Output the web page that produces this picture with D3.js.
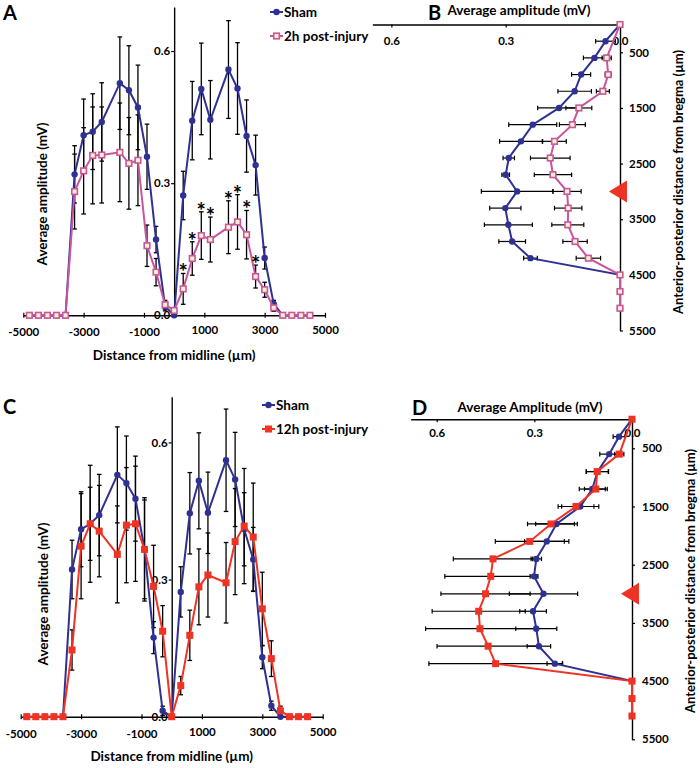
<!DOCTYPE html>
<html><head><meta charset="utf-8">
<script src="https://cdn.jsdelivr.net/npm/d3@7"></script>
<style>
body{margin:0;background:#fff}
svg text{font-family:Lato,'Open Sans',sans-serif;font-weight:bold;fill:#000}
</style>
</head><body>
<svg id="chart" width="700" height="768"></svg>
<script>
// ---------- data ----------
const distML = [-4800,-4500,-4200,-3900,-3600,-3300,-3000,-2700,-2400,-1800,-1500,-1200,-900,-600,-300,0,300,600,900,1200,1800,2100,2400,2700,3000,3300,3600,3900,4200,4500];
// Panel A
const shamA    = [0,0,0,0,0, 0.320,0.409,0.417,0.439,0.527,0.511,0.472,0.360,0.172,0.020, 0, 0.272,0.442,0.514,0.444,0.558,0.515,0.407,0.341,0.130,0.026, 0,0,0,0];
const shamAErr = [0,0,0,0,0, 0.065,0.082,0.086,0.089,0.105,0.101,0.096,0.074,0.030,0.010, 0, 0.055,0.089,0.104,0.089,0.111,0.104,0.082,0.068,0.025,0.008, 0,0,0,0];
const inj2h    = [0,0,0,0,0, 0.281,0.328,0.363,0.364,0.370,0.345,0.352,0.158,0.098,0.024, 0.011, 0.060,0.129,0.181,0.172,0.200,0.212,0.183,0.088,0.058,0.017, 0,0,0,0];
const inj2hErr = [0,0,0,0,0, 0.085,0.098,0.110,0.109,0.112,0.104,0.103,0.047,0.031,0.010, 0.005, 0.035,0.038,0.054,0.051,0.060,0.062,0.055,0.026,0.017,0.008, 0,0,0,0];
const sigA = [300,600,900,1200,1800,2100,2400,2700];
// Panel C
const shamC     = [0,0,0,0,0, 0.322,0.410,0.422,0.441,0.529,0.511,0.477,0.366,0.173,0.013, 0, 0.273,0.445,0.516,0.446,0.561,0.519,0.410,0.344,0.130,0.024, 0,0,0,0];
const shamCErr  = [0,0,0,0,0, 0.064,0.082,0.128,0.089,0.105,0.103,0.093,0.113,0.035,0.010, 0, 0.055,0.089,0.105,0.089,0.112,0.103,0.080,0.070,0.025,0.010, 0,0,0,0];
const inj12h    = [0,0,0,0,0, 0.146,0.373,0.422,0.406,0.355,0.419,0.422,0.366,0.285,0.187, 0, 0.068,0.178,0.284,0.310,0.293,0.383,0.417,0.393,0.236,0.127,0.013, 0,0,0];
const inj12hErr = [0,0,0,0,0, 0.044,0.115,0.080,0.100,0.106,0.126,0.126,0.108,0.090,0.056, 0, 0.020,0.055,0.083,0.092,0.088,0.116,0.126,0.118,0.080,0.039,0.010, 0,0,0];
// Panels B and D (anterior-posterior distance)
const distAP = [0,300,600,900,1200,1500,1800,2100,2400,2700,3000,3300,3600,3900,4200,4500,4800,5100];
const shamB     = [0,0.038,0.067,0.102,0.119,0.160,0.229,0.260,0.292,0.300,0.270,0.301,0.293,0.283,0.235,0,0,0];
const shamBErr  = [0,0.026,0.029,0.025,0.044,0.056,0.063,0.056,0.015,0.010,0.094,0.041,0.063,0.035,0.018,0,0,0];
const inj2hB    = [0,null,0.035,0.031,0.045,0.108,0.125,0.172,0.183,0.176,0.139,0.136,0.137,0.118,0.083,0,0,0];
const inj2hBErr = [0,0,0.012,0.008,0.017,0.034,0.034,0.031,0.052,0.049,0.037,0.036,0.042,0.032,0.032,0,0,0];
const shamD      = [0,0.040,0.070,0.106,0.122,0.159,0.232,0.262,0.294,0.301,0.272,0.304,0.294,0.286,0.237,0,0,0];
const shamDErr   = [0,0.018,0.029,0.034,0.040,0.057,0.064,0.068,0.016,0.012,0.105,0.041,0.063,0.036,0.024,0,0,0];
const inj12hD    = [0,null,0.039,0.107,0.111,0.172,0.249,0.314,0.427,0.434,0.450,0.471,0.467,0.442,0.419,0,0,0];
const inj12hDErr = [0,0,0.014,0.034,0.035,0.055,0.072,0.106,0.122,0.141,0.137,0.143,0.167,0.157,0.205,0,0,0];
const lesionAP = 3000;
// ticks & labels
const mlTicks = [-5000,-3000,-1000,1000,3000,5000];
const ampTicks = [0,0.3,0.6];
const apTicks = [500,1500,2500,3500,4500,5500];
const seriesNames = {sham:'Sham', h2:'2h post-injury', h12:'12h post-injury'};

// ---------- drawing ----------
const svg = d3.select('#chart');
const C_SHAM = '#2e3192', C_PINK = '#c8559f', C_RED = '#ee3224', C_PINKFILL = '#fbf3c8';

function rows(xs, vs, es){ return xs.map((d,i)=>({d, v:vs[i], e:es[i]})).filter(r=>r.v!=null); }

function styleAxis(g){
  g.attr('font-family',null).attr('font-size',null);
  g.select('.domain').attr('stroke','#000').attr('stroke-width',1.4);
  g.selectAll('.tick line').attr('stroke','#000').attr('stroke-width',1.2);
  g.selectAll('.tick text').attr('font-size',11.5);
}

function marker(g, data, type, px, py){
  if(type==='circle'){
    g.selectAll(null).data(data).join('circle').attr('cx',px).attr('cy',py).attr('r',3.2).attr('fill',C_SHAM);
  } else if(type==='open'){
    g.selectAll(null).data(data).join('rect').attr('x',d=>px(d)-2.8).attr('y',d=>py(d)-2.8).attr('width',5.6).attr('height',5.6)
      .attr('fill',C_PINKFILL).attr('stroke',C_PINK).attr('stroke-width',1.6);
  } else {
    g.selectAll(null).data(data).join('rect').attr('x',d=>px(d)-3.5).attr('y',d=>py(d)-3.5).attr('width',7).attr('height',7).attr('fill',C_RED);
  }
}

function horizPanel(o){
  const x = d3.scaleLinear().domain([-5000,5000]).range([o.xl,o.xr]);
  const y = d3.scaleLinear().domain([0,0.7]).range([o.yb,o.yt]);
  const g = svg.append('g');
  const gx = g.append('g').attr('transform',`translate(0,${o.yb})`)
    .call(d3.axisBottom(x).tickValues(mlTicks).tickSizeOuter(0).tickSizeInner(3).tickFormat(d=>String(d)));
  styleAxis(gx);
  gx.selectAll('.tick line').attr('y1',-2.5).attr('y2',2.5);
  gx.selectAll('.tick text').attr('y',d=>d<0?13:11).attr('dy','0.71em');
  const gy = g.append('g').attr('transform',`translate(${x(0)},0)`)
    .call(d3.axisLeft(y).tickValues(ampTicks).tickSizeOuter(0).tickSizeInner(3).tickFormat(d=>d.toFixed(1)));
  styleAxis(gy);
  gy.selectAll('.tick text').attr('x',-4);
  // titles
  g.append('text').attr('x',x(0)).attr('y',o.yb+40).attr('dy','0.35em').attr('text-anchor','middle').attr('font-size',13.5).text('Distance from midline (µm)');
  g.append('text').attr('transform',`translate(${o.ytx},${o.yty}) rotate(-90)`).attr('dy','0.35em').attr('text-anchor','middle').attr('font-size',13.5).text('Average amplitude (mV)');
  g.append('text').attr('x',3).attr('y',o.yt+o.letterDy).attr('font-size',20).attr('font-family','Liberation Sans, Arial, sans-serif').text(o.letter);
  // error bars
  const eb = g.append('g').attr('stroke','#000').attr('stroke-width',1.3);
  o.series.forEach(s=>{
    rows(distML,s.v,s.e).filter(r=>r.e>0).forEach(r=>{
      const cx=x(r.d), y1=y(r.v-r.e), y2=y(r.v+r.e);
      eb.append('line').attr('x1',cx).attr('x2',cx).attr('y1',y1).attr('y2',y2);
      eb.append('line').attr('x1',cx-2.3).attr('x2',cx+2.3).attr('y1',y1).attr('y2',y1);
      eb.append('line').attr('x1',cx-2.3).attr('x2',cx+2.3).attr('y1',y2).attr('y2',y2);
    });
  });
  o.series.forEach(s=>{
    const data = rows(distML,s.v,s.e);
    g.append('path').datum(data).attr('fill','none').attr('stroke',s.color).attr('stroke-width',2)
      .attr('d',d3.line().x(d=>x(d.d)).y(d=>y(d.v)));
    marker(g.append('g'), data, s.marker, d=>x(d.d), d=>y(d.v));
  });
  // asterisks
  if(o.sig){
    const s = o.series[1];
    const data = rows(distML,s.v,s.e).filter(r=>o.sig.includes(r.d));
    g.selectAll(null).data(data).join('text').attr('x',d=>x(d.d)).attr('y',d=>y(d.v+d.e)+7)
      .attr('text-anchor','middle').attr('font-size',22).text('*');
  }
  // legend
  o.series.forEach((s,i)=>{
    const ly = o.legY + i*24;
    g.append('line').attr('x1',o.legX).attr('x2',o.legX+13).attr('y1',ly).attr('y2',ly).attr('stroke',s.color).attr('stroke-width',2);
    marker(g.append('g'), [0], s.marker, ()=>o.legX+6.5, ()=>ly);
    g.append('text').attr('x',o.legX+14).attr('y',ly).attr('dy','0.35em').attr('font-size',13.5).text(s.name);
  });
}

function vertPanel(o){
  const x = d3.scaleLinear().domain([0,o.maxAmp]).range([o.ax, o.ax-o.maxAmp*o.pxmv]);
  const y = d3.scaleLinear().domain([0,5500]).range([o.yt,o.yb]);
  const g = svg.append('g');
  const gx = g.append('g').attr('transform',`translate(0,${o.yt})`)
    .call(d3.axisBottom(x).tickValues(ampTicks).tickSizeOuter(0).tickSizeInner(3).tickFormat(d=>d.toFixed(1)));
  styleAxis(gx);
  gx.selectAll('.tick text').attr('y',o.labDy).attr('dy','0.35em');
  const gy = g.append('g').attr('transform',`translate(${o.ax},0)`)
    .call(d3.axisRight(y).tickValues(apTicks).tickSizeOuter(0).tickSizeInner(3).tickFormat(d=>String(d)));
  styleAxis(gy);
  gy.selectAll('.tick text').attr('x',o.labDx);
  g.append('text').attr('x',o.tx).attr('y',o.ty).attr('dy','0.35em').attr('text-anchor','middle').attr('font-size',13.5).text(o.title);
  g.append('text').attr('transform',`translate(${o.rtx},${o.rty}) rotate(-90)`).attr('dy','0.35em').attr('text-anchor','middle').attr('font-size',13).text('Anterior-posterior distance from bregma (µm)');
  g.append('text').attr('x',o.lx).attr('y',o.ly).attr('font-size',20).attr('font-family','Liberation Sans, Arial, sans-serif').text(o.letter);
  // lesion marker
  const ty = y(lesionAP);
  g.append('path').attr('d',`M${o.ax-11},${ty} L${o.ax+7},${ty-11} L${o.ax+7},${ty+11} Z`).attr('fill',C_RED);
  const eb = g.append('g').attr('stroke','#000').attr('stroke-width',1.2);
  o.series.forEach(s=>{
    rows(distAP,s.v,s.e).filter(r=>r.e>0).forEach(r=>{
      const cy=y(r.d), x1=x(r.v-r.e), x2=x(r.v+r.e);
      eb.append('line').attr('x1',x1).attr('x2',x2).attr('y1',cy).attr('y2',cy);
      eb.append('line').attr('x1',x1).attr('x2',x1).attr('y1',cy-2.3).attr('y2',cy+2.3);
      eb.append('line').attr('x1',x2).attr('x2',x2).attr('y1',cy-2.3).attr('y2',cy+2.3);
    });
  });
  o.series.forEach(s=>{
    const data = rows(distAP,s.v,s.e);
    g.append('path').datum(data).attr('fill','none').attr('stroke',s.color).attr('stroke-width',2)
      .attr('d',d3.line().x(d=>x(d.v)).y(d=>y(d.d)));
    marker(g.append('g'), data, s.marker, d=>x(d.v), d=>y(d.d));
  });
}

horizPanel({xl:23.3,xr:325,yb:315.3,yt:7,ytx:42,yty:194,letter:'A',letterDy:13,legX:270,legY:12,sig:sigA,
  series:[{name:seriesNames.sham,v:shamA,e:shamAErr,color:C_SHAM,marker:'circle'},
          {name:seriesNames.h2,v:inj2h,e:inj2hErr,color:C_PINK,marker:'open'}]});
horizPanel({xl:20.7,xr:322.7,yb:716.7,yt:396.7,ytx:43,yty:594,letter:'C',letterDy:17,legX:262,legY:405,
  series:[{name:seriesNames.sham,v:shamC,e:shamCErr,color:C_SHAM,marker:'circle'},
          {name:seriesNames.h12,v:inj12h,e:inj12hErr,color:C_RED,marker:'filled'}]});
vertPanel({ax:620,pxmv:381,maxAmp:0.65,yt:24.5,yb:330.5,labDy:16,labDx:9,tx:519,ty:10,rtx:678,rty:182,title:'Average amplitude (mV)',letter:'B',lx:428,ly:20,
  series:[{v:shamB,e:shamBErr,color:C_SHAM,marker:'circle'},{v:inj2hB,e:inj2hBErr,color:C_PINK,marker:'open'}]});
vertPanel({ax:632,pxmv:325.5,maxAmp:0.68,yt:419.2,yb:739.3,labDy:14,labDx:10,tx:530,ty:407,rtx:690,rty:581,title:'Average Amplitude (mV)',letter:'D',lx:412,ly:415,
  series:[{v:shamD,e:shamDErr,color:C_SHAM,marker:'circle'},{v:inj12hD,e:inj12hDErr,color:C_RED,marker:'filled'}]});
</script>
</body></html>
